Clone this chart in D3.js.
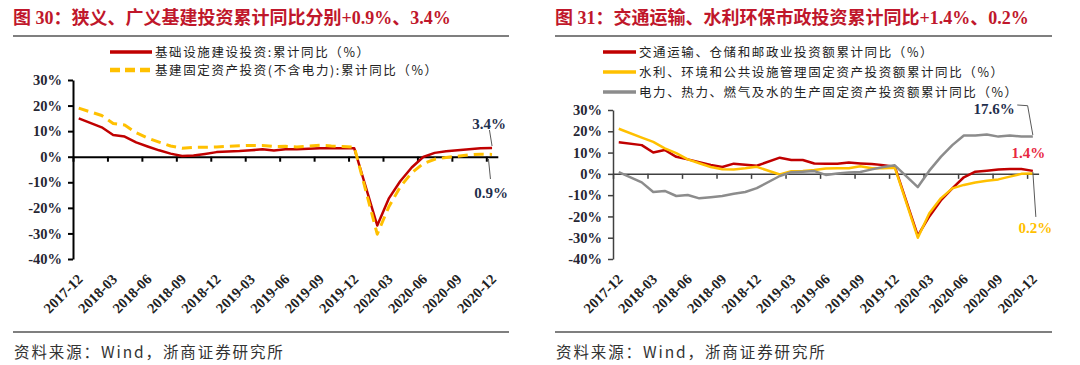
<!DOCTYPE html>
<html><head><meta charset="utf-8">
<script src="https://cdn.jsdelivr.net/npm/d3@7"></script>
<style>body{margin:0;background:#fff}svg{display:block}</style>
</head><body><svg id="c" width="1080" height="365"></svg>
<script>
// ---- data ----
const months = ["2017-12","2018-01","2018-02","2018-03","2018-04","2018-05","2018-06","2018-07","2018-08","2018-09","2018-10","2018-11","2018-12",
 "2019-01","2019-02","2019-03","2019-04","2019-05","2019-06","2019-07","2019-08","2019-09","2019-10","2019-11","2019-12",
 "2020-01","2020-02","2020-03","2020-04","2020-05","2020-06","2020-07","2020-08","2020-09","2020-10","2020-11","2020-12"];
const tickLabels = ["2017-12","2018-03","2018-06","2018-09","2018-12","2019-03","2019-06","2019-09","2019-12","2020-03","2020-06","2020-09","2020-12"];
const yTicks = [30,20,10,0,-10,-20,-30,-40];

// left chart
const broadInfra = [15.0,null,11.5,8.5,7.9,5.6,4.0,2.5,1.2,0.3,0.5,1.1,1.8,
 null,2.2,2.5,2.9,2.4,2.9,2.9,3.1,3.3,3.3,3.3,3.3,
 null,-26.9,-16.4,-9.6,-4.2,-0.1,1.5,2.1,2.5,2.9,3.3,3.4];
const narrowInfra = [19.0,null,16.1,13.0,12.4,9.4,7.3,5.7,4.2,3.3,3.7,3.7,3.8,
 null,4.3,4.4,4.4,4.0,4.1,3.8,4.2,4.5,4.2,4.0,3.8,
 null,-30.3,-19.7,-11.8,-6.3,-2.7,-1.0,-0.3,0.2,0.7,1.0,0.9];
// right chart
const transport = [14.8,null,13.5,10.0,11.2,8.0,6.8,5.5,4.2,3.2,4.8,4.3,3.8,
 null,7.6,6.5,6.5,4.9,4.8,4.8,5.3,4.9,4.6,4.1,3.4,
 null,-29.0,-20.0,-12.5,-6.8,-1.6,1.0,1.5,2.0,2.3,2.3,1.4];
const waterEnv = [21.2,null,17.0,15.0,12.0,9.7,6.8,5.0,3.2,2.2,2.1,2.6,3.3,
 null,-0.3,1.2,1.4,1.8,2.5,2.6,2.6,3.6,2.6,2.6,2.9,
 null,-30.0,-18.5,-11.5,-6.8,-5.2,-4.1,-3.2,-2.6,-1.3,0.0,0.2];
const utilities = [0.8,null,-4.0,-8.5,-8.0,-10.4,-9.9,-11.5,-11.0,-10.4,-9.3,-8.5,-6.7,
 null,-1.0,0.8,1.0,1.3,-0.5,0.2,0.6,0.9,2.1,3.2,4.0,
 null,-6.2,1.5,8.0,13.5,18.0,18.0,18.5,17.5,18.0,17.5,17.6];

const titleL = "图 30：狭义、广义基建投资累计同比分别+0.9%、3.4%";
const titleR = "图 31：交通运输、水利环保市政投资累计同比+1.4%、0.2%";
const source = "资料来源：Wind，浙商证券研究所";

// ---- drawing ----
const svg = d3.select("#c");
const LAT = "'Liberation Serif','Times New Roman',serif";
const CJK = "'Liberation Serif','Noto Sans CJK SC',sans-serif";

function frame(x0, x1, title) {
  svg.append("text").attr("x", x0).attr("y", 24).text(title)
    .attr("font-family", CJK).attr("font-weight", "bold").attr("font-size", 18).attr("fill", "#C0172B");
  svg.append("line").attr("x1", x0).attr("x2", x1).attr("y1", 36).attr("y2", 36).attr("stroke", "#555").attr("stroke-width", 1.6);
  svg.append("line").attr("x1", x0).attr("x2", x1).attr("y1", 332).attr("y2", 332).attr("stroke", "#555").attr("stroke-width", 1.6);
  svg.append("text").attr("x", x0 + 1).attr("y", 358).text(source)
    .attr("font-family", "'Noto Sans CJK SC','Liberation Serif',sans-serif").attr("font-size", 15.5)
    .attr("letter-spacing", 1.9).attr("fill", "#333");
}

function chart(cfg) {
  const x = d3.scaleBand().domain(months).range([cfg.left, cfg.right]);
  const y = d3.scaleLinear().domain([-40, 30]).range([cfg.bottom, cfg.top]);
  const cx = m => x(m) + x.bandwidth() / 2;
  const g = svg.append("g");

  // y axis
  const ya = g.append("g").attr("transform", `translate(${cfg.left},0)`)
    .call(d3.axisLeft(y).tickValues(yTicks).tickFormat(d => d + "%").tickSize(5).tickSizeOuter(0).tickPadding(6));
  ya.select(".domain").attr("stroke", cfg.axisColor).attr("stroke-width", cfg.axisW);
  ya.selectAll(".tick line").attr("stroke", cfg.axisColor).attr("stroke-width", cfg.axisW);
  ya.selectAll("text").attr("font-family", LAT).attr("font-weight", "bold").attr("font-size", 14.5).attr("fill", "#262633");

  // zero line with ticks at every 3rd category boundary
  const xi = d3.scaleLinear().domain([0, months.length]).range([cfg.left, cfg.right]);
  const za = g.append("g").attr("transform", `translate(0,${y(0)})`)
    .call(d3.axisBottom(xi).tickValues(tickLabels.map(t => months.indexOf(t))).tickFormat("").tickSize(5).tickSizeOuter(0));
  za.select(".domain").attr("stroke", cfg.axisColor).attr("stroke-width", cfg.axisW);
  za.selectAll(".tick line").attr("stroke", cfg.axisColor).attr("stroke-width", cfg.axisW);

  // category labels at bottom
  const la = g.append("g").attr("transform", `translate(0,${cfg.bottom})`)
    .call(d3.axisBottom(x).tickValues(tickLabels).tickSize(0));
  la.select(".domain").remove();
  la.selectAll("text").attr("y", 0).attr("dy", 0).attr("x", 0)
    .attr("text-anchor", "end").attr("transform", "translate(5,21) rotate(-45)")
    .attr("font-family", LAT).attr("font-weight", "bold").attr("font-size", 14.5).attr("fill", "#222");

  // series
  cfg.series.forEach(s => {
    const pts = months.map((m, i) => ({ m, v: s.values[i] })).filter(d => d.v != null);
    g.append("path").datum(pts)
      .attr("d", d3.line().x(d => cx(d.m)).y(d => y(d.v)))
      .attr("fill", "none").attr("stroke", s.color).attr("stroke-width", s.width)
      .attr("stroke-dasharray", s.dash || null).attr("stroke-linejoin", "round");
  });

  // legend
  cfg.series.forEach((s, i) => {
    const ly = cfg.legY + i * cfg.legDy;
    g.append("line").attr("x1", cfg.legX).attr("x2", cfg.legX + cfg.legLen).attr("y1", ly).attr("y2", ly)
      .attr("stroke", s.color).attr("stroke-width", s.legW).attr("stroke-dasharray", s.legDash || null);
    g.append("text").attr("x", cfg.legX + cfg.legLen + 3).attr("y", ly).attr("dy", "0.36em").text(s.name)
      .attr("font-family", "'Noto Sans CJK SC',sans-serif").attr("font-size", cfg.legFont)
      .attr("letter-spacing", cfg.legSpacing).attr("fill", "#222");
  });

  // annotations anchored to last points
  const last = months[months.length - 1];
  cfg.notes.forEach(n => {
    const s = cfg.series[n.series];
    const px = cx(last), py = y(s.values[s.values.length - 1]);
    if (n.leader) {
      g.append("path").attr("d", d3.line()(n.leader.map(p => [px + p[0], py + p[1]])))
        .attr("fill", "none").attr("stroke", "#595959").attr("stroke-width", 1);
    }
    g.append("text").attr("x", px + n.dx).attr("y", py + n.dy).attr("text-anchor", n.anchor)
      .text(d3.format(".1f")(s.values[s.values.length - 1]) + "%")
      .attr("font-family", LAT).attr("font-weight", "bold").attr("font-size", 15).attr("fill", n.color);
  });
}

frame(13, 509, titleL);
frame(555, 1052, titleR);

chart({
  left: 73, right: 497.8, top: 80, bottom: 259, axisColor: "#000", axisW: 2,
  legX: 110, legLen: 42, legY: 52, legDy: 18, legFont: 12.5, legSpacing: 1.6,
  series: [
    { name: "基础设施建设投资:累计同比（%）", values: broadInfra, color: "#C00000", width: 2.5, legW: 3.5 },
    { name: "基建固定资产投资(不含电力):累计同比（%）", values: narrowInfra, color: "#FFC000", width: 3, dash: "10,6", legW: 4.5, legDash: "10,5" }
  ],
  notes: [
    { series: 0, dx: -3, dy: -19.5, anchor: "middle", color: "#1F2F4D", leader: [[-2.6, -18], [0, -2]] },
    { series: 1, dx: -1, dy: 44, anchor: "middle", color: "#1F2F4D", leader: [[-3.6, 4.6], [-1.6, 24.6]] }
  ]
});

chart({
  left: 613, right: 1038.6, top: 110, bottom: 259, axisColor: "#404040", axisW: 1.5,
  legX: 603, legLen: 33, legY: 52, legDy: 20, legFont: 12.5, legSpacing: 1.6,
  series: [
    { name: "交通运输、仓储和邮政业投资额累计同比（%）", values: transport, color: "#C00000", width: 2.5, legW: 3.5 },
    { name: "水利、环境和公共设施管理固定资产投资额累计同比（%）", values: waterEnv, color: "#FFC000", width: 2.5, legW: 3.5 },
    { name: "电力、热力、燃气及水的生产固定资产投资额累计同比（%）", values: utilities, color: "#8C8C8C", width: 2.5, legW: 3.5 }
  ],
  notes: [
    { series: 2, dx: -18, dy: -22, anchor: "end", color: "#1F2F4D", leader: [[-15.6, -31.4], [-5.2, -30.7], [0, -1.4]] },
    { series: 0, dx: -4.4, dy: -12.4, anchor: "middle", color: "#E8283F" },
    { series: 1, dx: 2.6, dy: 60, anchor: "middle", color: "#FFC000", leader: [[0, -1.5], [3, 43.5]] }
  ]
});
</script></body></html>
